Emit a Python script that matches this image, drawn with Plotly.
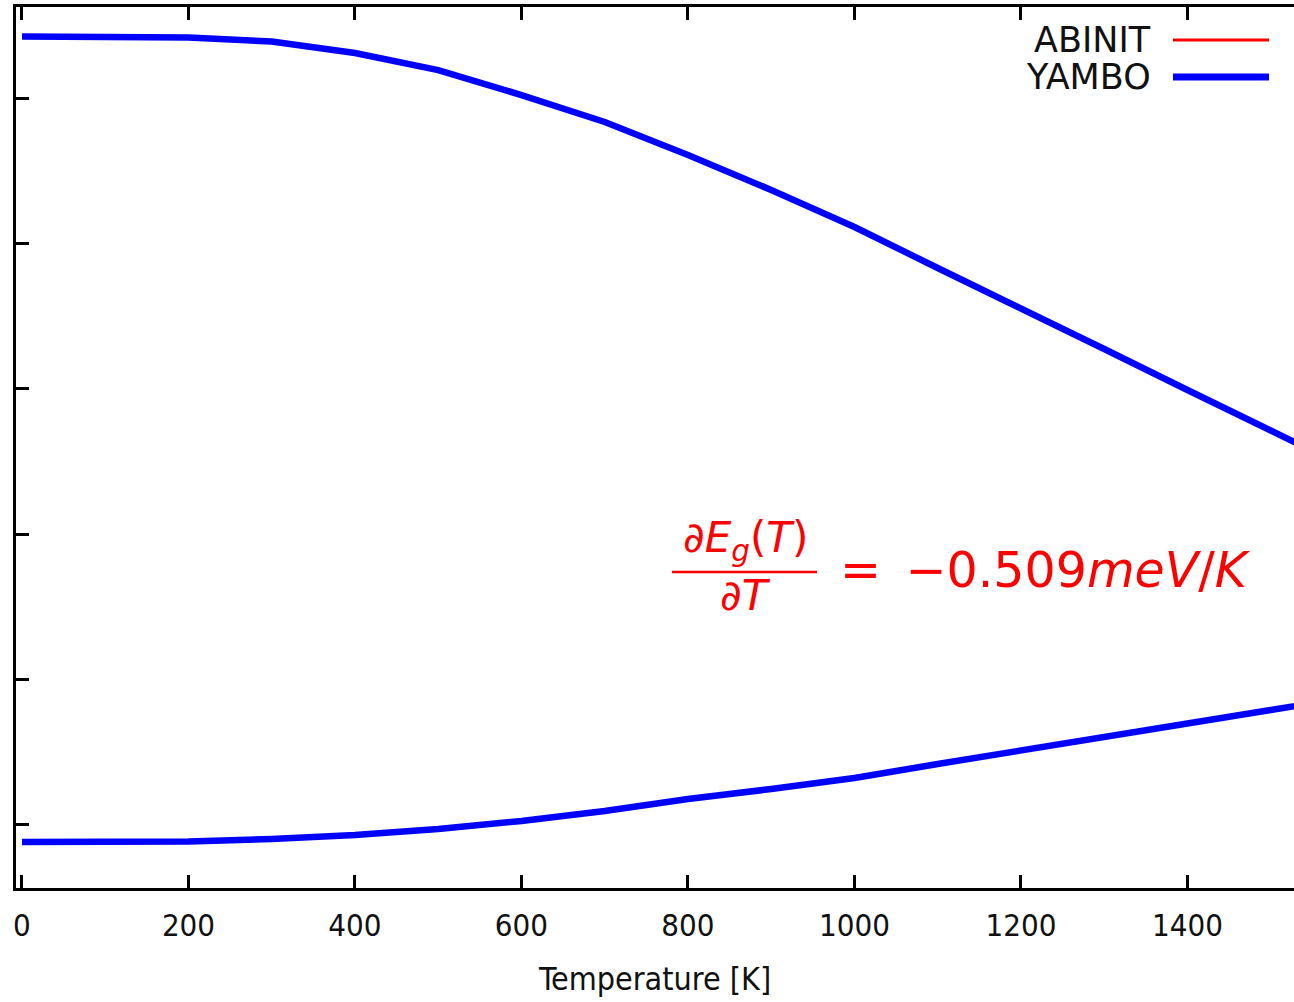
import plotly.graph_objects as go

# ---- data ----
temperature = [0, 100, 200, 300, 400, 500, 600, 700, 800, 900, 1000, 1100, 1200, 1300, 1400, 1500, 1600]
yambo_upper = [1.0846, 1.0843, 1.0832, 1.0777, 1.0619, 1.0385, 1.0041, 0.9670, 0.9216, 0.8735,
               0.8226, 0.7662, 0.7112, 0.6547, 0.5983, 0.5426, 0.4870]
yambo_lower = [-0.0234, -0.0234, -0.0227, -0.0193, -0.0138, -0.0055, 0.0055, 0.0193, 0.0358, 0.0495,
               0.0646, 0.0839, 0.1018, 0.1210, 0.1396, 0.1582, 0.1768]
x_ticks = [0, 200, 400, 600, 800, 1000, 1200, 1400]
y_ticks = [0.0, 0.2, 0.4, 0.6, 0.8, 1.0]
legend_labels = ["ABINIT", "YAMBO"]

W, H = 1294, 1002
L, R, T, B = 16, 0, 7, 114
PW, PH = W - L - R, H - T - B

def px(xp):
    return (xp - L) / PW

def py(yp):
    return (H - B - yp) / PH

fig = go.Figure()
for ys in (yambo_upper, yambo_lower):
    fig.add_trace(go.Scatter(x=temperature, y=ys, mode="lines",
                             line=dict(color="#0000ff", width=6.5),
                             showlegend=False, hoverinfo="skip"))

tick_font = dict(family="DejaVu Sans Condensed, Liberation Sans, sans-serif", size=31, color="#111111")
title_font = dict(family="DejaVu Sans Condensed, Liberation Sans, sans-serif", size=32, color="#111111")

fig.update_xaxes(range=[-7.2, 1528], tickvals=x_ticks, ticks="inside", ticklen=13, tickwidth=3,
                 tickcolor="black", showline=True, linewidth=3, linecolor="black", mirror="ticks",
                 showgrid=False, zeroline=False, tickfont=tick_font, ticklabelstandoff=8,
                 title=dict(text="Temperature [K]", font=title_font, standoff=26))
fig.update_yaxes(range=[-0.0867, 1.1252], tickvals=y_ticks, ticks="inside", ticklen=13, tickwidth=3,
                 tickcolor="black", showline=True, linewidth=3, linecolor="black", mirror=False,
                 showgrid=False, zeroline=False, showticklabels=False)

# legend (text left, sample line right)
leg_font = dict(family="DejaVu Sans, sans-serif", size=35, color="#111111")
leg_styles = [("#ff0000", 3), ("#0000ff", 7)]
leg_y = [40, 77]
for lab, (col, w), yy in zip(legend_labels, leg_styles, leg_y):
    fig.add_annotation(x=px(1153), y=py(yy), xref="paper", yref="paper", text=lab,
                       showarrow=False, xanchor="right", yanchor="middle", font=leg_font)
    fig.add_shape(type="line", xref="paper", yref="paper", x0=px(1173), x1=px(1269),
                  y0=py(yy), y1=py(yy), line=dict(color=col, width=w))

# formula
red = "#ff0000"
ffont = dict(family="DejaVu Sans, sans-serif", size=42, color=red)
fig.add_annotation(x=px(745), y=py(540), xref="paper", yref="paper",
                   text="<i>∂E<sub>g</sub></i>(<i>T</i>)", showarrow=False,
                   xanchor="center", yanchor="middle", font=ffont)
fig.add_shape(type="line", xref="paper", yref="paper", x0=px(672), x1=px(817),
              y0=py(572), y1=py(572), line=dict(color=red, width=2.5))
fig.add_annotation(x=px(745), y=py(595), xref="paper", yref="paper",
                   text="<i>∂T</i>", showarrow=False,
                   xanchor="center", yanchor="middle", font=ffont)
fig.add_annotation(x=px(838), y=py(570), xref="paper", yref="paper",
                   text="=\u2002−0.509<i>meV</i>/<i>K</i>", showarrow=False,
                   xanchor="left", yanchor="middle",
                   font=dict(family="DejaVu Sans, sans-serif", size=49, color=red))

fig.update_layout(width=W, height=H, margin=dict(l=L, r=R, t=T, b=B),
                  paper_bgcolor="white", plot_bgcolor="white")

fig.write_html("out.html", config={"displayModeBar": False},
               post_script="document.body.style.margin='0';document.body.style.overflow='hidden';")
